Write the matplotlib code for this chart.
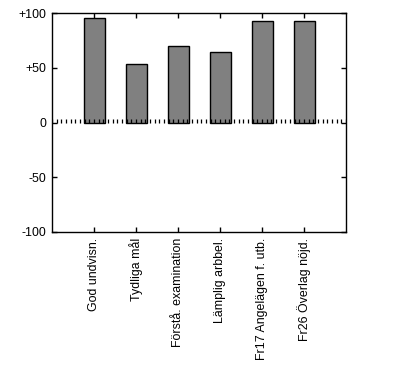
import numpy as np
import matplotlib
matplotlib.use("Agg")
import matplotlib.pyplot as plt

categories = ["God undvisn.", "Tydliga mål", "Förstå. examination", "Lämplig arbbel.",
              "Fr17 Angelägen f. utb.", "Fr26 Överlag nöjd."]
values = [95, 53, 70, 64, 93, 93]
yticks = [-100, -50, 0, 50, 100]
ytick_labels = ["-100", "-50", "0", "+50", "+100"]

plt.rcParams['font.family'] = ['Liberation Sans', 'DejaVu Sans']

fig = plt.figure(figsize=(3.95, 3.66), dpi=100)
ax = fig.add_axes([52/395, 1-232/366, (346-52)/395, (232-13)/366])

x = np.arange(1, len(categories)+1)
ax.bar(x, values, width=0.5, color="#808080", edgecolor="black", linewidth=1, zorder=2)

# zero line as small dotted ticks
zx = np.arange(0, len(categories)+1 + 1e-9, 1/9)
ax.vlines(zx, 0, 3.2, colors="black", linewidth=0.9, zorder=3)

ax.set_xlim(0, len(categories)+1)
ax.set_ylim(-100, 100)
ax.set_yticks(yticks)
ax.set_yticklabels(ytick_labels, fontsize=8.9)
ax.set_xticks(x)
ax.set_xticklabels(categories, rotation=90, fontsize=8.9, va="top", ha="center")
ax.tick_params(axis="both", direction="in", length=3.5, width=1, top=True, right=True,
               labelright=False, labeltop=False)
ax.tick_params(axis="x", pad=4)
ax.tick_params(axis="y", pad=4)
for s in ax.spines.values():
    s.set_linewidth(1)

fig.savefig("out.png", dpi=100)
